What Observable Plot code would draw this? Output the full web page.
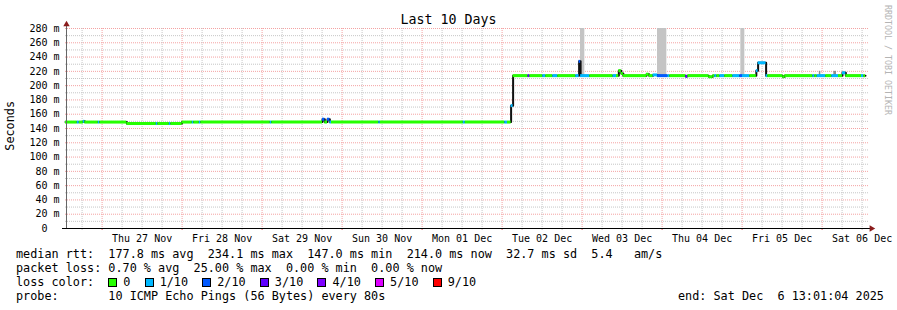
<!DOCTYPE html>
<html>
<head>
<meta charset="utf-8">
<script src="https://cdn.jsdelivr.net/npm/d3@7"></script>
<script src="https://cdn.jsdelivr.net/npm/@observablehq/plot@0.6"></script>
<style>
  html, body { margin: 0; padding: 0; background: #fff; }
  #page { position: relative; width: 897px; height: 310px; overflow: hidden; font-family: "DejaVu Sans Mono", monospace; color: #000; }
  #title { position: absolute; top: 12px; left: 0; width: 897px; text-align: center; font-size: 13.3px; line-height: 15px; }
  #ylab { position: absolute; left: 4px; top: 101px; writing-mode: vertical-rl; transform: rotate(180deg); font-size: 11.8px; line-height: 13px; }
  #credit { position: absolute; left: 883px; top: 5px; writing-mode: vertical-rl; font-size: 8.3px; line-height: 10px; color: #b4b4b4; white-space: pre; }
  #chart { position: absolute; left: 0; top: 20px; }
  #legend { position: absolute; left: 16px; top: 247px; width: 881px; font-size: 11.8px; line-height: 14px; white-space: pre; }
  .row { height: 14px; position: relative; display: flex; align-items: center; }
  .item { display: inline-flex; align-items: center; margin-right: 14.2px; }
  .sw { display: inline-block; width: 9px; height: 9px; box-sizing: border-box; border: 1px solid #000; margin-right: 6px; }
  .end { position: absolute; left: 662px; top: 0; }
</style>
</head>
<body>
<div id="page">
  <div id="title"></div>
  <div id="ylab"></div>
  <div id="credit"></div>
  <div id="chart"></div>
  <div id="legend"></div>
</div>
<script>
// ---------- data ----------
const titleText = "Last 10 Days";
const yLabelText = "Seconds";
const creditText = "RRDTOOL / TOBI OETIKER";
const startTime = "2025-11-26T13:01:04Z";
const endTime = "2025-12-06T13:01:04Z";
const yTicks = [0, 20, 40, 60, 80, 100, 120, 140, 160, 180, 200, 220, 240, 260, 280];

// median RTT as steps: value (ms) and loss (x/10) valid from each time until the next
const medTimes = [
  "2025-11-26T13:01:04", "2025-11-26T16:34", "2025-11-26T17:10", "2025-11-26T18:22", "2025-11-26T18:49",
  "2025-11-26T22:52", "2025-11-26T23:19", "2025-11-27T07:25", "2025-11-27T16:16", "2025-11-27T16:43",
  "2025-11-27T20:10", "2025-11-27T20:37", "2025-11-28T00:00", "2025-11-28T03:04", "2025-11-28T03:31",
  "2025-11-28T05:10", "2025-11-28T05:37", "2025-11-29T02:28", "2025-11-29T02:55", "2025-11-29T18:07",
  "2025-11-29T18:49", "2025-11-29T19:37", "2025-11-29T20:19", "2025-11-29T20:49", "2025-11-30T11:01",
  "2025-11-30T11:28", "2025-12-01T12:22", "2025-12-01T12:58", "2025-12-02T00:49", "2025-12-02T01:37",
  "2025-12-02T02:42", "2025-12-02T03:18", "2025-12-02T07:48", "2025-12-02T08:19", "2025-12-02T12:13",
  "2025-12-02T13:07", "2025-12-02T15:13", "2025-12-02T16:43", "2025-12-02T22:07", "2025-12-02T23:06",
  "2025-12-02T23:33", "2025-12-03T02:19", "2025-12-03T09:18", "2025-12-03T10:19", "2025-12-03T11:01",
  "2025-12-03T11:46", "2025-12-03T12:22", "2025-12-03T19:19", "2025-12-03T20:06", "2025-12-03T21:18",
  "2025-12-03T22:37", "2025-12-04T01:43", "2025-12-04T02:19", "2025-12-04T07:07", "2025-12-04T07:43",
  "2025-12-04T14:01", "2025-12-04T15:13", "2025-12-04T15:49", "2025-12-04T16:25", "2025-12-04T17:19",
  "2025-12-04T18:49", "2025-12-04T21:13", "2025-12-04T23:19", "2025-12-05T00:07", "2025-12-05T02:19",
  "2025-12-05T04:16", "2025-12-05T04:48", "2025-12-05T07:12", "2025-12-05T07:43", "2025-12-05T12:13",
  "2025-12-05T12:49", "2025-12-05T21:13", "2025-12-05T21:49", "2025-12-05T22:30", "2025-12-06T01:07",
  "2025-12-06T02:55", "2025-12-06T04:55", "2025-12-06T06:07", "2025-12-06T07:07", "2025-12-06T11:49",
  "2025-12-06T12:31"
];
const medValues = [
  149, 149, 149, 150, 149,
  149, 149, 147, 147, 147,
  147, 147, 149, 149, 149,
  149, 149, 149, 149, 153,
  149, 153, 149, 149, 149,
  149, 149, 149, 149, 149,
  172, 214, 214, 214, 214,
  214, 214, 214, 214, 234,
  214, 214, 214, 214, 221,
  217, 214, 216, 214, 215,
  214, 214, 214, 213, 214,
  212.5, 214, 214, 214, 214,
  214, 214, 214, 214, 214,
  221, 232, 214, 214, 212.5,
  214, 214, 214, 214, 214,
  214, 214, 218, 214, 214,
  214
];
const medLoss = [
  0, 1, 0, 1, 0,
  1, 0, 0, 1, 0,
  1, 0, 0, 1, 0,
  1, 0, 1, 0, 2,
  0, 2, 1, 0, 1,
  0, 1, 0, 1, 0,
  1, 0, 3, 0, 1,
  0, 1, 0, 1, 2,
  1, 0, 1, 0, 0,
  0, 0, 0, 0, 1,
  2, 1, 0, 3, 0,
  0, 0, 1, 0, 1,
  0, 1, 2, 1, 0,
  1, 1, 1, 0, 0,
  0, 1, 0, 1, 0,
  1, 0, 1, 0, 1,
  0
];

// smoke (spread of the pings)
const smokeFrom = ["2025-12-02T23:31", "2025-12-03T22:37", "2025-12-04T23:37", "2025-12-05T23:10", "2025-12-06T03:31"];
const smokeTo   = ["2025-12-03T00:49", "2025-12-04T01:25", "2025-12-05T00:49", "2025-12-05T23:37", "2025-12-06T04:19"];
const smokeLow  = [214, 214, 214, 214, 214];
const smokeHigh = [330, 330, 330, 220, 220];
const smokeDensity = [1, 1, 1, 3, 3];

// legend
const lossLabels = ["0", "1/10", "2/10", "3/10", "4/10", "5/10", "9/10"];
const lossColors = ["#26ff00", "#00b8ff", "#0059ff", "#5e00ff", "#7e00ff", "#dd00ff", "#ff0000"];
const statsRtt = "median rtt:  177.8 ms avg  234.1 ms max  147.0 ms min  214.0 ms now  32.7 ms sd  5.4   am/s";
const statsLoss = "packet loss: 0.70 % avg  25.00 % max  0.00 % min  0.00 % now";
const lossColorLabel = "loss color:  ";
const probeText = "probe:       10 ICMP Echo Pings (56 Bytes) every 80s";
const endText = "end: Sat Dec  6 13:01:04 2025";

// ---------- build ----------
const start = new Date(startTime), end = new Date(endTime);
const lossLabel = n => n === 0 ? "0" : `${n}/10`;
const median = medTimes.map((t, i) => ({
  t: new Date(t + "Z"),
  next: i + 1 < medTimes.length ? new Date(medTimes[i + 1] + "Z") : end,
  v: medValues[i],
  loss: lossLabel(medLoss[i])
}));
const stepPts = median.map(d => ({t: d.t, v: d.v})).concat([{t: end, v: medValues[medValues.length - 1]}]);
const smoke = smokeFrom.map((s, i) => ({
  x1: new Date(s + "Z"), x2: new Date(smokeTo[i] + "Z"),
  y1: smokeLow[i], y2: smokeHigh[i], d: smokeDensity[i]
}));

const sixHours = d3.utcHour.every(6).range(start, end);
const dayLines = sixHours.filter(d => d.getUTCHours() === 0);
const minorLines = sixHours.filter(d => d.getUTCHours() !== 0);
const noons = sixHours.filter(d => d.getUTCHours() === 12);
const yMax = yTicks[yTicks.length - 1];
const minorY = d3.range(10, yMax, 20);

const pink = "#f4a2a2";
const gray = "#c6c6c6";
const dots = "1,1";

const chart = Plot.plot({
  width: 897,
  height: 227,
  marginLeft: 65,
  marginRight: 32,
  marginTop: 8,
  marginBottom: 19,
  style: {fontFamily: "'DejaVu Sans Mono', monospace", fontSize: "10px", background: "transparent", overflow: "visible", color: "#000"},
  x: {type: "utc", domain: [start, end]},
  y: {domain: [0, yMax]},
  color: {type: "ordinal", domain: lossLabels, range: lossColors},
  marks: [
    Plot.gridY(minorY, {stroke: gray, strokeOpacity: 1, strokeDasharray: dots, insetRight: -3}),
    Plot.gridY(yTicks, {stroke: pink, strokeOpacity: 1, strokeDasharray: dots, insetRight: -3}),
    Plot.gridX(minorLines, {stroke: gray, strokeOpacity: 1, strokeDasharray: dots}),
    Plot.gridX(dayLines, {stroke: pink, strokeOpacity: 1, strokeDasharray: dots}),
    Plot.rect(smoke, {x1: "x1", x2: "x2", y1: "y1", y2: "y2", fill: d => d.d === 1 ? "#c4c4c4" : "#8c8c8c", clip: true}),
    Plot.line(stepPts, {x: "t", y: "v", curve: "step-after", stroke: "#111", strokeWidth: 2}),
    Plot.ruleY(median, {x1: "t", x2: "next", y: "v", stroke: "loss", strokeWidth: 3}),
    Plot.axisY(yTicks, {tickSize: 0, tickPadding: 6, tickFormat: d => d === 0 ? "0\u00a0\u00a0" : `${d} m`, label: null}),
    Plot.axisX(noons, {tickSize: 0, tickPadding: 6, tickFormat: d3.utcFormat("%a %d %b"), label: null}),
    Plot.axisX(minorLines, {tickSize: 2, tickFormat: () => "", stroke: gray, label: null}),
    Plot.axisX(dayLines, {tickSize: 2, tickFormat: () => "", stroke: "#e06060", label: null}),
    Plot.ruleY([0], {stroke: "#000", insetLeft: -3, insetRight: -5}),
    Plot.ruleX([start], {stroke: "#666", insetTop: -6, dx: 1}),
    Plot.dot([start], {x: d => d, y: () => yMax, dx: 1, dy: -4, symbol: "triangle", r: 2.4, fill: "#8b1c1c", stroke: null}),
    Plot.dot([end], {x: d => d, y: () => 0, dx: 6, symbol: "triangle", rotate: 90, r: 2.4, fill: "#8b1c1c", stroke: null})
  ]
});
document.getElementById("chart").appendChild(chart);

document.getElementById("title").textContent = titleText;
document.getElementById("ylab").textContent = yLabelText;
document.getElementById("credit").textContent = creditText;

const legend = document.getElementById("legend");
function row(text) {
  const r = document.createElement("div");
  r.className = "row";
  if (text != null) r.textContent = text;
  legend.appendChild(r);
  return r;
}
row(statsRtt);
row(statsLoss);
const lc = row(lossColorLabel);
lossLabels.forEach((lab, i) => {
  const it = document.createElement("span");
  it.className = "item";
  const sw = document.createElement("span");
  sw.className = "sw";
  sw.style.background = lossColors[i];
  it.appendChild(sw);
  it.appendChild(document.createTextNode(lab));
  lc.appendChild(it);
});
const pr = row(probeText);
const en = document.createElement("span");
en.className = "end";
en.textContent = endText;
pr.appendChild(en);
</script>
</body>
</html>
